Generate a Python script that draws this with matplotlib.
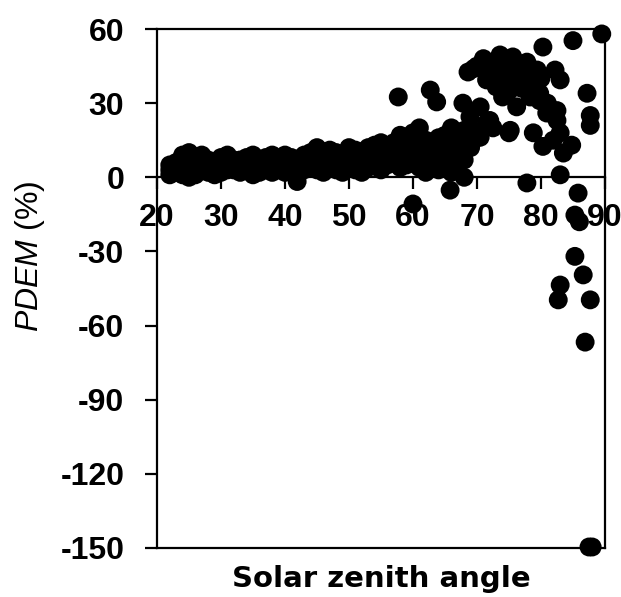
import matplotlib
matplotlib.use("Agg")
import matplotlib.pyplot as plt

plt.rcParams['font.family'] = ['Liberation Sans', 'DejaVu Sans']
plt.rcParams['mathtext.fontset'] = 'custom'
plt.rcParams['mathtext.it'] = 'Liberation Sans:italic'
plt.rcParams['mathtext.rm'] = 'Liberation Sans'
plt.rcParams['axes.unicode_minus'] = False

# solar zenith angle (deg) and PDEM (%)
# dense band 22-70 deg
sza_band = [22, 22, 22, 23, 23, 23, 24, 24, 24, 24, 25, 25, 25, 25,
            26, 26, 26, 27, 27, 27, 28, 28, 28, 29, 29, 29, 30, 30, 30,
            31, 31, 31, 32, 32, 32, 33, 33, 33, 34, 34, 34, 35, 35, 35,
            36, 36, 36, 37, 37, 37, 38, 38, 38, 39, 39, 39, 40, 40, 40,
            41, 41, 41, 42, 42, 42, 43, 43, 43, 44, 44, 44, 45, 45, 45,
            46, 46, 46, 47, 47, 47, 48, 48, 48, 49, 49, 49, 50, 50, 50,
            51, 51, 51, 52, 52, 52, 53, 53, 53, 54, 54, 54, 55, 55, 55, 55,
            56, 56, 56, 57, 57, 57, 58, 58, 58, 58, 59, 59, 59,
            60, 60, 60, 61, 61, 61, 61, 62, 62, 62, 63, 63, 64, 64, 64,
            65, 65, 65, 66, 66, 66, 66, 67, 67, 67, 68, 68, 68, 68,
            69, 69, 70]
pdem_band = [3, 1, 5, 2, 4, 6, 1, 3, 7, 9, 0, 5, 10, 2,
             4, 8, 1, 3, 6, 9, 2, 5, 7, 3, 6, 1, 4, 8, 2,
             5, 9, 3, 3, 6, 7, 4, 7, 2, 5, 8, 3, 1, 6, 9,
             4, 7, 2, 5, 8, 3, 6, 9, 2, 4, 7, 3, 5, 9, 2,
             6, 8, 3, 4, 7, 5, 5, 9, 3, 6, 10, 4, 7, 12, 3,
             5, 9, 2, 6, 11, 4, 7, 10, 3, 5, 9, 2, 6, 12, 4,
             8, 11, 3, 6, 10, 2, 7, 12, 4, 9, 13, 5, 6, 11, 3, 14,
             8, 12, 5, 10, 14, 6, 7, 12, 17, 4, 9, 14, 5,
             11, 18, 6, 8, 13, 20, 4, 10, 15, 2, 7, 12, 9, 16, 3,
             6, 11, 17, 8, 14, 20, 2, 10, 16, 4, 7, 13, 19, 0,
             19, 12, 16]

# scattered points
sza_other = [41.9, 57.7, 60.0, 62.7, 63.7, 65.8,
             67.8, 68.9, 70.5, 71.5, 72.0, 72.5, 75.0, 75.2, 69.4, 70.5,
             68.6, 71.0, 73.6, 75.6, 77.8, 79.4, 71.5, 73.0, 74.7, 76.7,
             78.8, 76.2, 78.3, 79.8, 72.5, 77.2, 74.0, 70.0, 73.0, 75.5,
             79.8, 80.9, 82.5, 78.8, 80.3, 83.0, 83.5, 84.8, 81.9, 82.5,
             82.2, 83.0, 80.3, 85.0, 89.5, 87.2, 87.7, 87.7,
             74.0, 76.0, 78.0, 75.0, 77.0, 80.0, 81.0, 72.0, 69.5,
             83.0, 77.8, 85.8, 85.3, 86.0, 85.3, 86.6, 83.0, 82.7, 87.7,
             86.9, 87.5, 88.0]
pdem_other = [-1.7, 32.5, -10.8, 35.3, 30.5, -5.2,
              30.0, 24.5, 28.5, 22.0, 23.0, 20.0, 18.0, 19.0, 19.0, 16.2,
              42.6, 48.0, 49.5, 48.7, 46.6, 43.4, 39.4, 36.6, 42.0, 40.6,
              38.0, 28.5, 32.5, 34.0, 42.6, 42.6, 32.5, 45.0, 45.0, 38.0,
              31.0, 26.0, 23.0, 18.0, 12.5, 18.0, 9.8, 13.0, 15.0, 27.0,
              43.4, 39.4, 52.7, 55.3, 58.0, 34.0, 25.0, 21.0,
              45.0, 44.0, 41.0, 35.0, 36.0, 40.0, 30.0, 46.0, 44.0,
              1.0, -2.3, -6.4, -15.3, -18.0, -32.0, -39.5, -43.6, -49.6, -49.6,
              -66.7, -149.6, -149.6]

xticks = [20, 30, 40, 50, 60, 70, 80, 90]
yticks = [-150, -120, -90, -60, -30, 0, 30, 60]

fig = plt.figure(figsize=(6.21, 5.97), dpi=100)
ax = fig.add_axes([0.2528, 0.0821, 0.7214, 0.8693])

ax.scatter(sza_band, pdem_band, s=185, c='black', edgecolors='none', clip_on=False, zorder=3)
ax.scatter(sza_other, pdem_other, s=185, c='black', edgecolors='none', clip_on=False, zorder=3)

ax.set_xlim(20, 90)
ax.set_ylim(-150, 60)

for side in ['left', 'right', 'top', 'bottom']:
    ax.spines[side].set_linewidth(1.6)
ax.spines['bottom'].set_position(('data', 0))
ax.axhline(-150, color='black', lw=1.6, clip_on=False)

ax.set_xticks(xticks)
ax.set_yticks(yticks)
ax.tick_params(axis='both', direction='out', length=8.5, width=1.6, labelsize=23)
ax.tick_params(axis='x', pad=10)
ax.tick_params(axis='y', pad=15)
for lab in ax.get_xticklabels() + ax.get_yticklabels():
    lab.set_fontweight('bold')

fig.text(381 / 621, 1 - 587 / 597, 'Solar zenith angle', fontsize=21,
         fontweight='bold', family='DejaVu Sans', ha='center', va='baseline')
fig.text(30 / 621, 1 - 256 / 597, r'$\mathit{PDEM}$ (%)', fontsize=23,
         rotation=90, ha='center', va='center')

fig.savefig('out.png', dpi=100)
